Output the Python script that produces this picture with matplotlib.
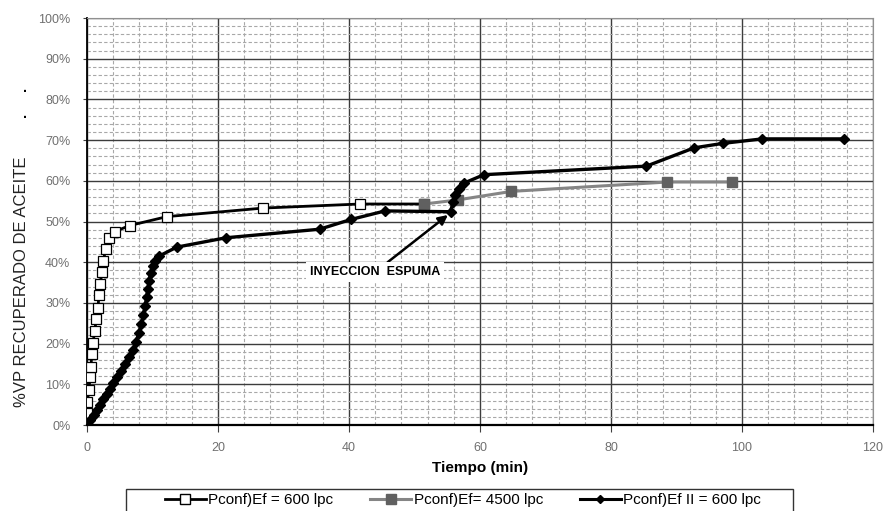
import matplotlib
matplotlib.use('Agg')
import matplotlib.pyplot as plt
from matplotlib.patches import Rectangle
from matplotlib.lines import Line2D
import numpy as np

plt.rcParams['font.family'] = ['Liberation Sans', 'DejaVu Sans']

###############################################################
## data : tiempo (min) vs % VP recuperado
###############################################################

t_ef600 = [0, 0.05, 0.05, 0.3, 0.45, 0.55, 0.8, 0.9, 1.2, 1.4, 1.7, 1.8, 2.0,
           2.3, 2.5, 2.85, 3.4, 4.2, 6.5, 12.2, 26.9, 41.7, 51.5]
r_ef600 = [0, 3.0, 5.7, 8.6, 11.7, 14.3, 17.4, 20.1, 23.2, 26.0, 28.8, 31.9, 34.6,
           37.5, 40.3, 43.2, 45.9, 47.5, 49.0, 51.2, 53.3, 54.3, 54.3]

t_ef4500 = [51.5, 56.6, 64.8, 88.6, 98.4]
r_ef4500 = [54.3, 55.3, 57.4, 59.7, 59.7]

t_ef600_ii = [0, 0.5, 1.0, 1.5, 2.0, 2.5, 3.0, 3.5, 4.0, 4.6, 5.2, 5.8, 6.4, 7.0,
              7.5, 7.9, 8.3, 8.6, 8.9, 9.1, 9.3, 9.5, 9.7, 10.0, 10.4, 11.0, 13.7,
              21.2, 35.5, 40.3, 45.5, 55.5, 55.9, 56.2, 56.8, 57.5, 60.6,
              85.4, 92.7, 97.1, 103.1, 115.5]
r_ef600_ii = [0, 1.2, 2.5, 3.8, 5.0, 6.3, 7.6, 8.9, 10.2, 11.7, 13.3, 15.0, 16.7, 18.5,
              20.5, 22.5, 24.8, 27.0, 29.3, 31.5, 33.5, 35.5, 37.3, 39.0, 40.3, 41.5, 43.7,
              46.0, 48.1, 50.5, 52.6, 52.4, 54.9, 56.5, 58.0, 59.4, 61.5,
              63.6, 68.1, 69.2, 70.3, 70.3]

labels = ['Pconf)Ef = 600 lpc', 'Pconf)Ef= 4500 lpc', 'Pconf)Ef II = 600 lpc']

###############################################################
## figure
###############################################################

W, H = 883, 511
fig = plt.figure(figsize=(W / 100, H / 100), dpi=100)
ax = fig.add_axes([87 / W, 1 - 425 / H, (873 - 87) / W, (425 - 18) / H])

ax.plot(t_ef600, r_ef600, color='black', lw=2.0, marker='s', ms=6.8,
        mfc='white', mec='black', mew=0.9, zorder=3)
ax.plot(t_ef4500, r_ef4500, color='#858585', lw=2.2, marker='s', ms=6.8,
        mfc='#606060', mec='#606060', zorder=4)
ax.plot(t_ef600_ii, r_ef600_ii, color='black', lw=2.4, marker='D', ms=4.8,
        mfc='black', mec='black', zorder=5)

ax.set_xlim(0, 120)
ax.set_ylim(0, 100)
ax.set_xticks(np.arange(0, 121, 20))
ax.set_xticks(np.arange(0, 121, 4), minor=True)
ax.set_yticks(np.arange(0, 101, 10))
ax.set_yticks(np.arange(0, 101, 2), minor=True)
ax.set_yticklabels([f'{v}%' for v in range(0, 101, 10)])

ax.grid(which='major', color='#3c3c3c', lw=1.0, ls='-')
ax.grid(which='minor', color='#a8a8a8', lw=0.8, ls=(0, (3, 2)))
ax.set_axisbelow(True)

ax.spines['left'].set_color('black')
ax.spines['left'].set_linewidth(1.3)
ax.spines['bottom'].set_color('black')
ax.spines['bottom'].set_linewidth(1.6)
ax.spines['top'].set_color('#909090')
ax.spines['right'].set_color('#909090')

ax.tick_params(axis='y', which='major', length=3, pad=9, labelsize=9,
               labelcolor='#707070', color='#404040')
ax.tick_params(axis='x', which='major', length=5, pad=7, labelsize=9,
               labelcolor='#707070', color='#404040')
ax.tick_params(which='minor', length=0)

ax.set_xlabel('Tiempo (min)', fontsize=11, fontweight='bold', labelpad=5)
fig.text(22 / W, 1 - 282 / H, '%VP RECUPERADO DE ACEITE', rotation=90,
         fontsize=12, color='#222222', ha='center', va='center')

ax.annotate('INYECCION  ESPUMA', xy=(55.1, 51.6), xytext=(44.0, 37.6),
            fontsize=9, fontweight='bold', ha='center', va='center',
            bbox=dict(boxstyle='square,pad=0.3', fc='white', ec='none'),
            arrowprops=dict(arrowstyle='-|>', color='black', lw=1.8,
                            mutation_scale=14, shrinkA=0, shrinkB=0),
            zorder=6)

# two stray dots left of the axis label
for yd in (88, 114):
    fig.text(25 / W, 1 - yd / H, '.', fontsize=10, fontweight='bold',
             color='black', ha='center', va='center')

# legend below the plot, box running off the bottom edge
fig.patches.append(Rectangle((126 / W, -0.02), (793 - 126) / W, 0.02 + (1 - 489 / H),
                             transform=fig.transFigure, fill=True, fc='white',
                             ec='#333333', lw=1.0))
handles = [
    Line2D([], [], color='black', lw=2.0, marker='s', ms=6.5, mfc='white', mec='black'),
    Line2D([], [], color='#858585', lw=2.2, marker='s', ms=6.5, mfc='#606060', mec='#606060'),
    Line2D([], [], color='black', lw=2.2, marker='D', ms=4.5, mfc='black', mec='black'),
]
fig.legend(handles, labels, loc='center', bbox_to_anchor=(463 / W, 1 - 500 / H),
           ncol=3, frameon=False, handlelength=2.7, handletextpad=0.15,
           columnspacing=2.4, prop={'size': 11})

plt.savefig('out.png', dpi=100)
